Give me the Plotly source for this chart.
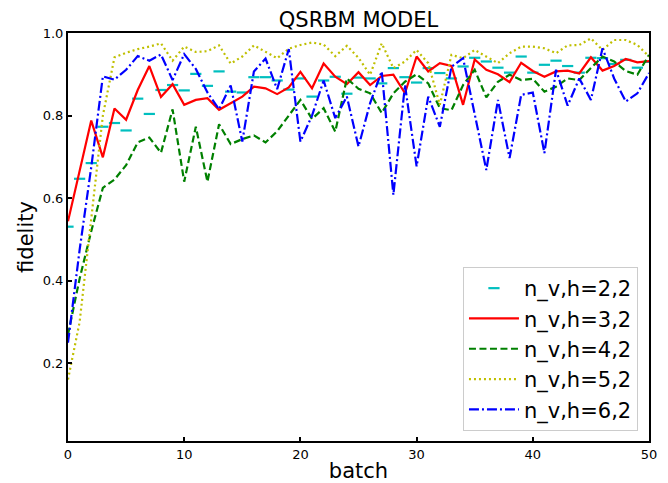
import plotly.graph_objects as go

batch = list(range(51))

fid_2_2 = [0.531, 0.647, 0.685, 0.773, 0.782, 0.764, 0.841, 0.804, 0.862, 0.874,
           0.861, 0.901, 0.872, 0.907, 0.858, 0.856, 0.893, 0.893, 0.885, 0.863,
           0.890, 0.846, 0.885, 0.894, 0.853, 0.892, 0.890, 0.878, 0.915, 0.893,
           0.880, 0.915, 0.903, 0.890, 0.919, 0.940, 0.931, 0.916, 0.904, 0.943,
           0.904, 0.923, 0.933, 0.920, 0.904, 0.940, 0.939, 0.925, 0.935, 0.916,
           0.930]

fid_3_2 = [0.544, 0.665, 0.788, 0.699, 0.817, 0.790, 0.862, 0.920, 0.845, 0.876,
           0.826, 0.838, 0.842, 0.814, 0.829, 0.846, 0.870, 0.866, 0.852, 0.868,
           0.906, 0.866, 0.926, 0.894, 0.876, 0.905, 0.874, 0.896, 0.899, 0.854,
           0.943, 0.907, 0.927, 0.920, 0.826, 0.936, 0.911, 0.900, 0.881, 0.928,
           0.908, 0.894, 0.907, 0.909, 0.902, 0.941, 0.909, 0.920, 0.937, 0.929,
           0.932]

fid_4_2 = [0.270, 0.405, 0.520, 0.625, 0.645, 0.680, 0.735, 0.747, 0.710, 0.815,
           0.640, 0.773, 0.640, 0.779, 0.731, 0.743, 0.752, 0.735, 0.762, 0.800,
           0.838, 0.792, 0.818, 0.761, 0.890, 0.865, 0.854, 0.806, 0.854, 0.882,
           0.900, 0.878, 0.818, 0.813, 0.874, 0.911, 0.844, 0.882, 0.899, 0.886,
           0.889, 0.858, 0.870, 0.890, 0.886, 0.915, 0.943, 0.931, 0.908, 0.899,
           0.947]

fid_5_2 = [0.161, 0.300, 0.550, 0.800, 0.941, 0.952, 0.961, 0.967, 0.975, 0.933,
           0.967, 0.954, 0.956, 0.970, 0.926, 0.943, 0.970, 0.955, 0.939, 0.962,
           0.971, 0.977, 0.972, 0.944, 0.969, 0.940, 0.899, 0.975, 0.915, 0.931,
           0.959, 0.927, 0.826, 0.947, 0.939, 0.959, 0.943, 0.927, 0.951, 0.967,
           0.967, 0.963, 0.951, 0.970, 0.971, 0.987, 0.959, 0.983, 0.983, 0.971,
           0.943]

fid_6_2 = [0.250, 0.475, 0.675, 0.895, 0.887, 0.911, 0.944, 0.933, 0.948, 0.886,
           0.949, 0.913, 0.856, 0.815, 0.873, 0.737, 0.907, 0.938, 0.864, 0.961,
           0.737, 0.800, 0.885, 0.794, 0.846, 0.725, 0.830, 0.907, 0.608, 0.874,
           0.677, 0.846, 0.773, 0.918, 0.939, 0.800, 0.668, 0.838, 0.697, 0.850,
           0.856, 0.709, 0.911, 0.824, 0.890, 0.838, 0.963, 0.890, 0.834, 0.854,
           0.903]

names = ["n_v,h=2,2", "n_v,h=3,2", "n_v,h=4,2", "n_v,h=5,2", "n_v,h=6,2"]
x_ticks = [0, 10, 20, 30, 40, 50]
y_ticks = [0.2, 0.4, 0.6, 0.8, 1.0]
y_tick_labels = ["0.2", "0.4", "0.6", "0.8", "1.0"]

FONT = "DejaVu Sans"

fig = go.Figure()

fig.add_trace(go.Scatter(
    x=batch, y=fid_2_2, mode="markers", name=names[0],
    marker=dict(symbol="line-ew", size=8, color="#00bfbf",
                line=dict(color="#00bfbf", width=2.2)),
))
fig.add_trace(go.Scatter(
    x=batch, y=fid_3_2, mode="lines", name=names[1],
    line=dict(color="#ff0000", width=2.2),
))
fig.add_trace(go.Scatter(
    x=batch, y=fid_4_2, mode="lines", name=names[2],
    line=dict(color="#008000", width=2.2, dash="7px,3.5px"),
))
fig.add_trace(go.Scatter(
    x=batch, y=fid_5_2, mode="lines", name=names[3],
    line=dict(color="#bfbf00", width=2.2, dash="2px,3px"),
))
fig.add_trace(go.Scatter(
    x=batch, y=fid_6_2, mode="lines", name=names[4],
    line=dict(color="#0000ff", width=2.2, dash="10px,3px,2px,3px"),
))

fig.update_layout(
    width=668, height=483,
    margin=dict(l=68, r=19, t=33, b=42, autoexpand=False),
    paper_bgcolor="white", plot_bgcolor="white",
    font=dict(family=FONT, color="black"),
    title=dict(text="QSRBM MODEL", x=0.5, xref="paper", xanchor="center",
               y=1, yref="paper", yanchor="bottom", pad=dict(b=6),
               font=dict(size=21, family=FONT, color="black")),
    showlegend=True,
    legend=dict(x=0.981, y=0.0245, xanchor="right", yanchor="bottom",
                bgcolor="rgba(255,255,255,0.9)", bordercolor="#cccccc",
                borderwidth=1, font=dict(size=21, family=FONT),
                itemwidth=50),
)

fig.update_xaxes(
    range=[0, 50], tickvals=x_ticks, ticktext=[str(v) for v in x_ticks],
    ticks="inside", ticklen=4, tickwidth=1.5, tickcolor="black",
    showline=True, linecolor="black", linewidth=2, mirror=True,
    showgrid=False, zeroline=False, automargin=False,
    tickfont=dict(size=13, family=FONT),
    title=dict(text="batch", font=dict(size=21, family=FONT), standoff=17),
)
fig.update_yaxes(
    range=[0.012, 1.0], tickvals=y_ticks, ticktext=y_tick_labels,
    ticks="inside", ticklen=4, tickwidth=1.5, tickcolor="black",
    showline=True, linecolor="black", linewidth=2, mirror=True,
    showgrid=False, zeroline=False, automargin=False,
    tickfont=dict(size=13, family=FONT),
    title=dict(text="fidelity", font=dict(size=21, family=FONT), standoff=3),
)

fig.write_html("out.html")
